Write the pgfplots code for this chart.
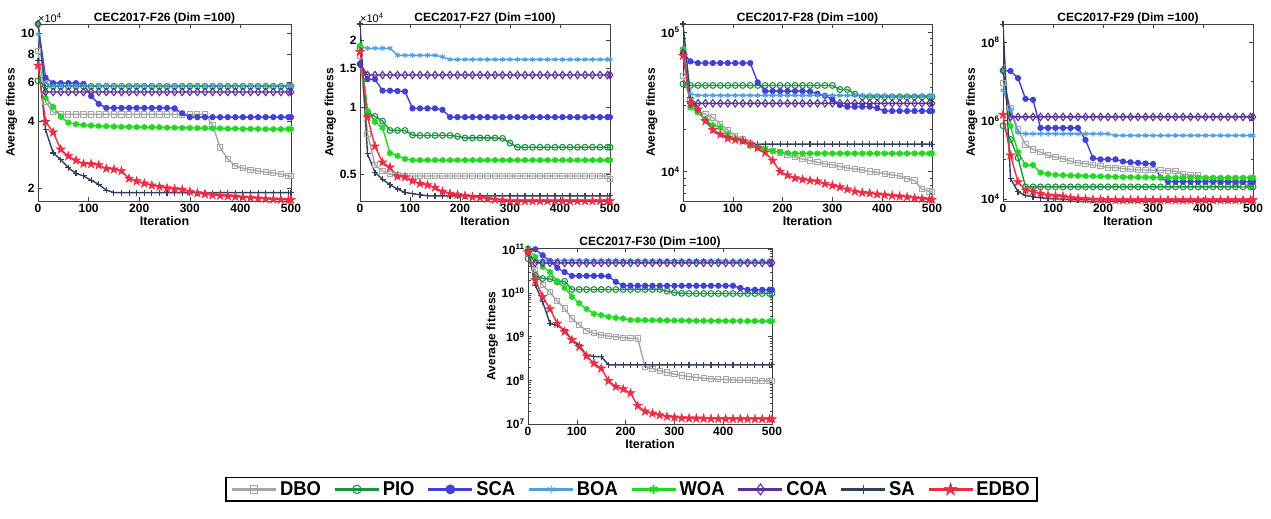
\documentclass[border=0pt]{standalone}
\usepackage{fontspec}
\setmainfont{Liberation Sans}
\newfontfamily\legfont[FakeStretch=0.92]{Liberation Sans}
\usepackage{pgfplots}
\pgfplotsset{compat=1.18}
\usepackage{pgfplotstable}

\definecolor{cDBO}{RGB}{165,165,165}
\definecolor{cPIO}{RGB}{30,145,65}
\definecolor{cSCA}{RGB}{65,65,215}
\definecolor{cBOA}{RGB}{80,160,225}
\definecolor{cWOA}{RGB}{35,215,35}
\definecolor{cCOA}{RGB}{90,50,150}
\definecolor{cSA}{RGB}{45,65,95}
\definecolor{cEDBO}{RGB}{235,45,70}

\pgfdeclareplotmark{pstar}{%
 \pgfpathmoveto{\pgfqpointpolar{90}{1.3\pgfplotmarksize}}%
 \pgfpathlineto{\pgfqpointpolar{126}{0.5\pgfplotmarksize}}%
 \pgfpathlineto{\pgfqpointpolar{162}{1.3\pgfplotmarksize}}%
 \pgfpathlineto{\pgfqpointpolar{198}{0.5\pgfplotmarksize}}%
 \pgfpathlineto{\pgfqpointpolar{234}{1.3\pgfplotmarksize}}%
 \pgfpathlineto{\pgfqpointpolar{270}{0.5\pgfplotmarksize}}%
 \pgfpathlineto{\pgfqpointpolar{306}{1.3\pgfplotmarksize}}%
 \pgfpathlineto{\pgfqpointpolar{342}{0.5\pgfplotmarksize}}%
 \pgfpathlineto{\pgfqpointpolar{18}{1.3\pgfplotmarksize}}%
 \pgfpathlineto{\pgfqpointpolar{54}{0.5\pgfplotmarksize}}%
 \pgfpathclose
 \pgfusepathqfillstroke
}

\tikzset{
 sDBO/.style={color=cDBO, line width=1.4pt, mark=square, mark size=2.6pt, mark options={line width=1pt}},
 sPIO/.style={color=cPIO, line width=1.4pt, mark=o, mark size=2.9pt, mark options={line width=1.1pt}},
 sSCA/.style={color=cSCA, line width=1.4pt, mark=*, mark size=2.4pt},
 sBOA/.style={color=cBOA, line width=1.4pt, mark=asterisk, mark size=2.7pt, mark options={line width=1pt}},
 sWOA/.style={color=cWOA, line width=1.4pt, mark=asterisk, mark size=3.1pt, mark options={line width=2pt}},
 sCOA/.style={color=cCOA, line width=1.4pt, mark=diamond, mark size=3.7pt, mark options={line width=1.1pt}},
 sSA/.style={color=cSA, line width=1.4pt, mark=+, mark size=3pt, mark options={line width=1.1pt}},
 sEDBO/.style={color=cEDBO, line width=1.4pt, mark=pstar, mark size=3.6pt, mark options={line width=0.5pt}},
}

\pgfplotsset{every axis/.append style={scale only axis, xmin=0, xmax=500,
   xtick={0,100,200,300,400,500}, xticklabels={0,100,200,300,400,500},
   tick label style={font=\fontsize{12}{14}\selectfont\bfseries},
   title style={font=\fontsize{12}{14}\selectfont\bfseries, yshift=-10pt},
   xlabel={Iteration}, ylabel={Average fitness},
   xlabel style={font=\fontsize{12.5}{14}\selectfont\bfseries, yshift=3pt},
   ylabel style={font=\fontsize{12}{14}\selectfont\bfseries, yshift=-3pt},
   axis line style={line width=0.6pt, black!75},
   tick style={black!75, line width=0.5pt},
   major tick length=4pt, minor tick length=2.5pt}}

\newcommand{\alleight}[1]{%
 \addplot[sDBO] table[x=x,y=DBO]{#1};
 \addplot[sPIO] table[x=x,y=PIO]{#1};
 \addplot[sSCA] table[x=x,y=SCA]{#1};
 \addplot[sBOA] table[x=x,y=BOA]{#1};
 \addplot[sWOA] table[x=x,y=WOA]{#1};
 \addplot[sCOA] table[x=x,y=COA]{#1};
 \addplot[sSA] table[x=x,y=SA]{#1};
 \addplot[sEDBO] table[x=x,y=EDBO]{#1};
}

\pgfplotstableread{
x DBO PIO SCA BOA WOA COA SA EDBO
0 83000 61000 110000 99000 110000 110000 75000 71500
15 49000 57600 63000 60000 51000 54300 36600 39900
30 44000 57600 59500 57800 46500 54300 28800 35700
45 43000 57600 59500 57800 42000 54300 26900 29900
60 43000 57600 59500 57800 39500 54300 24700 27900
75 43000 57600 59500 57800 38800 54300 23300 26700
90 43000 57600 59000 57800 38500 54300 22700 25800
105 43000 57600 52000 57800 38300 54300 21700 25700
120 43000 57600 48000 57800 38100 54300 20800 25400
135 43000 57600 46000 57800 38000 54300 19600 24500
150 43000 57600 46000 57800 37900 54300 19100 24300
165 43000 57600 46000 57800 37800 54300 19100 23900
180 43000 57600 46000 57800 37800 54300 19100 22100
195 43000 57600 46000 57800 37700 54300 19100 21500
210 43000 57600 46000 57800 37700 54300 19100 21000
225 43000 57600 46000 57800 37600 54300 19100 20600
240 43000 57600 46000 57800 37600 54300 19100 20300
255 43000 57600 46000 57800 37500 54300 19100 20000
270 43000 57600 45800 57800 37500 54300 19100 19800
285 43000 57600 43500 57800 37400 54300 19100 19700
300 43000 57600 41800 57800 37400 54300 19100 19300
315 43000 57600 41800 57800 37300 54300 19100 19000
330 43000 57600 41800 57800 37300 54300 19100 18800
345 38500 57600 41800 57800 37200 54300 19100 18600
360 30500 57600 41800 57800 37200 54300 19100 18500
375 27000 57600 41800 57800 37100 54300 19100 18400
390 25200 57600 41800 57800 37100 54300 19100 18300
405 24600 57600 41800 57800 37000 54300 19100 18200
420 24200 57600 41800 57800 37000 54300 19100 18100
435 23900 57600 41800 57800 37000 54300 19100 18000
450 23600 57600 41800 57800 36900 54300 19100 17900
465 23400 57600 41800 57800 36900 54300 19100 17800
480 23100 57600 41800 57800 36900 54300 19100 17750
495 22700 57600 41800 57800 36900 54300 19100 17700
500 22600 57600 41800 57800 36900 54300 19100 17700
}\tA

\pgfplotstableread{
x DBO PIO SCA BOA WOA COA SA EDBO
0 17000 18500 15700 18800 19000 15700 23800 17800
15 7600 9530 13400 18500 9650 14000 6170 9040
30 5500 9100 13400 18500 8600 14000 5080 6680
45 5150 8670 11900 18500 8100 14000 4740 5650
60 5000 7870 11900 18500 6210 14000 4470 5360
75 4950 7870 11850 17200 6050 14000 4280 4880
90 4900 7870 11800 17200 5850 14000 4130 4840
105 4900 7500 9900 17200 5780 14000 4080 4660
120 4900 7470 9900 17200 5780 14000 4030 4530
135 4900 7470 9900 17200 5780 14000 3990 4460
150 4900 7470 9900 17200 5780 14000 3990 4350
165 4900 7470 9750 16900 5780 14000 3990 4170
180 4900 7470 9040 16450 5780 14000 3990 4080
195 4900 7400 9040 16450 5780 14000 3990 4030
210 4900 7280 9040 16450 5780 14000 3990 3990
225 4900 7280 9040 16450 5780 14000 3990 3940
240 4900 7280 9040 16450 5780 14000 3990 3920
255 4900 7280 9040 16450 5780 14000 3990 3870
270 4900 7280 9040 16450 5780 14000 3990 3840
285 4900 7250 9040 16450 5780 14000 3990 3810
300 4900 6900 9040 16450 5780 14000 3990 3780
315 4900 6610 9040 16450 5780 14000 3990 3780
330 4900 6610 9040 16450 5780 14000 3990 3780
345 4900 6610 9040 16450 5780 14000 3990 3780
360 4900 6610 9040 16450 5780 14000 3990 3780
375 4900 6610 9040 16450 5780 14000 3990 3780
390 4900 6610 9040 16450 5780 14000 3990 3780
405 4900 6610 9040 16450 5780 14000 3990 3780
420 4900 6610 9040 16450 5780 14000 3990 3780
435 4900 6610 9040 16450 5780 14000 3990 3780
450 4900 6610 9040 16450 5780 14000 3990 3780
465 4900 6610 9040 16450 5780 14000 3990 3780
480 4900 6610 9040 16450 5780 14000 3990 3780
495 4900 6610 9040 16450 5780 14000 3990 3780
500 4740 6610 9040 16450 5780 14000 3990 3780
}\tB

\pgfplotstableread{
x DBO PIO SCA BOA WOA COA SA EDBO
0 48300 42600 71000 75000 75700 71000 114600 67800
15 32000 41500 61800 36100 28800 30900 34000 31200
30 27200 41500 60100 35200 26500 30900 27500 28000
45 25800 41500 60100 35200 23700 30900 23700 23000
60 24400 41500 60100 35200 21500 30900 19900 19900
75 21900 41500 60100 35200 20700 30900 18500 18500
90 19900 41500 60100 35200 18500 30900 17800 17300
105 18100 41500 60100 35200 17100 30900 17100 16900
120 17100 41500 60100 35200 16600 30900 16500 16600
135 16000 41500 60100 35200 15300 30900 16000 15750
150 15300 41500 43700 35200 14900 30900 15750 14800
165 14500 41500 37800 35200 14500 30900 15750 13700
180 14100 41500 37800 35200 14100 30900 15750 12000
195 13700 41500 37800 35200 13800 30900 15750 10000
210 13200 41500 37800 35200 13600 30900 15750 9400
225 12700 41500 37800 35200 13500 30900 15750 8970
240 12300 41500 37800 35200 13500 30900 15750 8780
255 12000 41500 37500 35200 13500 30900 15750 8630
270 11660 41500 36200 35200 13500 30900 15750 8500
285 11350 41500 35000 35200 13500 30900 15750 8180
300 11200 41500 33000 35200 13500 30900 15750 7950
315 10870 38800 30000 35200 13500 30900 15750 7730
330 10600 38800 29200 35200 13500 30900 15750 7450
345 10450 36000 29200 35200 13500 30900 15750 7200
360 10280 34400 29200 35200 13500 30900 15750 7060
375 10000 34400 29200 35200 13500 30900 15750 6980
390 9890 34400 28500 35200 13500 30900 15750 6870
405 9620 34400 27200 35200 13500 30900 15750 6790
420 9460 34400 27200 35000 13500 30900 15750 6710
435 9300 34400 27200 35000 13500 30900 15750 6640
450 8870 34400 27200 35000 13500 30900 15750 6570
465 8630 34400 27200 35000 13500 30900 15750 6460
480 7450 34400 27200 35000 13500 30900 15750 6390
495 7200 34400 27200 35000 13500 30900 15750 6320
500 7120 34400 27200 35000 13500 30900 15750 6290
}\tC

\pgfplotstableread{
x DBO PIO SCA BOA WOA COA SA EDBO
0 9100000 740000 19000000 5900000 19000000 19000000 290000000 1420000
15 2100000 330000 18600000 1900000 720000 1240000 33000 129000
30 590000 112000 12200000 490000 157000 1240000 15100 27000
45 245000 20200 3600000 458000 73000 1240000 12200 16600
60 183000 20200 3400000 458000 73000 1240000 11200 15400
75 157000 20200 650000 458000 46700 1240000 10600 13700
90 129000 20200 650000 458000 43000 1240000 10200 12200
105 117000 20200 650000 458000 41000 1240000 10000 11900
120 106000 20200 650000 458000 40000 1240000 9800 11500
135 92000 20200 650000 458000 39500 1240000 9600 10600
150 84000 20200 650000 458000 39000 1240000 9500 10200
165 79000 20200 320000 458000 38500 1240000 9500 9800
180 73000 20200 110000 458000 38000 1240000 9500 9600
195 69000 20200 102000 458000 37500 1240000 9500 9500
210 62700 20200 102000 458000 37000 1240000 9500 9400
225 62700 20200 102000 416000 36500 1240000 9500 9300
240 59000 20200 90000 416000 36000 1240000 9500 9250
255 57000 20200 86000 416000 35800 1240000 9500 9250
270 54600 20200 83000 416000 35600 1240000 9500 9250
285 54600 20200 80000 416000 35400 1240000 9500 9250
300 53600 20200 78000 416000 35200 1240000 9500 9250
315 53600 20200 35000 416000 35000 1240000 9500 9250
330 52500 20200 27600 416000 35000 1240000 9500 9250
345 51000 20200 27600 416000 34900 1240000 9500 9250
360 42400 20200 27600 416000 34900 1240000 9500 9250
375 40000 20200 27600 416000 34900 1240000 9500 9250
390 40000 20200 27600 416000 34800 1240000 9500 9250
405 31600 20200 27600 416000 34800 1240000 9500 9250
420 31600 20200 27600 416000 34800 1240000 9500 9250
435 28700 20200 27600 416000 34800 1240000 9500 9250
450 27000 20200 27600 416000 34800 1240000 9500 9250
465 26000 20200 27600 416000 34800 1240000 9500 9250
480 23600 20200 27600 416000 34800 1240000 9500 9250
495 22200 20200 27600 416000 34800 1240000 9500 9250
500 21400 20200 27600 416000 34800 1240000 9500 9250
}\tD

\pgfplotstableread{
x DBO PIO SCA BOA WOA COA SA EDBO
0 8.7e10 6.1e10 8.5e10 8.0e10 1.05e11 8.7e10 1.0e11 8.7e10
15 3.3e10 2.5e10 1.0e11 5.6e10 6.7e10 4.88e10 1.51e10 1.96e10
30 1.5e10 2.14e10 7.3e10 5.6e10 3.95e10 4.88e10 6.3e9 8.2e9
45 1.03e10 2.1e10 5.4e10 5.6e10 3.04e10 4.88e10 2.0e9 4.3e9
60 6.5e9 1.8e10 3.75e10 5.6e10 1.86e10 4.88e10 1.8e9 2.0e9
75 4.4e9 1.85e10 3.0e10 5.6e10 1.31e10 4.88e10 1.43e9 1.3e9
90 2.6e9 1.2e10 2.46e10 5.6e10 8.2e9 4.88e10 8.4e8 8.4e8
105 1.85e9 1.2e10 2.46e10 5.6e10 5.8e9 4.88e10 6.45e8 5.9e8
120 1.37e9 1.2e10 2.46e10 5.6e10 4.3e9 4.88e10 3.7e8 3.6e8
135 1.19e9 1.2e10 2.46e10 5.6e10 3.35e9 4.88e10 3.5e8 2.45e8
150 1.09e9 1.2e10 2.46e10 5.6e10 3.1e9 4.88e10 3.5e8 1.88e8
165 1.03e9 1.2e10 2.4e10 5.6e10 2.85e9 4.88e10 2.26e8 9.7e7
180 9.9e8 1.2e10 1.8e10 5.6e10 2.7e9 4.88e10 2.26e8 7.2e7
195 9.5e8 1.2e10 1.48e10 5.5e10 2.6e9 4.88e10 2.26e8 6.3e7
210 9.2e8 1.2e10 1.46e10 5.5e10 2.4e9 4.88e10 2.26e8 5.1e7
225 9.1e8 1.2e10 1.46e10 5.5e10 2.4e9 4.88e10 2.26e8 2.6e7
240 2.0e8 1.2e10 1.46e10 5.5e10 2.38e9 4.88e10 2.26e8 1.95e7
255 1.85e8 1.2e10 1.46e10 5.5e10 2.37e9 4.88e10 2.26e8 1.75e7
270 1.65e8 1.2e10 1.46e10 5.5e10 2.36e9 4.88e10 2.26e8 1.6e7
285 1.51e8 1.1e10 1.46e10 5.5e10 2.35e9 4.88e10 2.26e8 1.48e7
300 1.38e8 1.02e10 1.46e10 5.5e10 2.34e9 4.88e10 2.26e8 1.42e7
315 1.29e8 9.8e9 1.46e10 5.5e10 2.33e9 4.88e10 2.26e8 1.37e7
330 1.22e8 9.7e9 1.46e10 5.5e10 2.32e9 4.88e10 2.26e8 1.35e7
345 1.16e8 9.7e9 1.46e10 5.5e10 2.31e9 4.88e10 2.26e8 1.34e7
360 1.12e8 9.7e9 1.46e10 5.5e10 2.3e9 4.88e10 2.26e8 1.33e7
375 1.08e8 9.7e9 1.46e10 5.5e10 2.3e9 4.88e10 2.26e8 1.32e7
390 1.05e8 9.7e9 1.46e10 5.5e10 2.29e9 4.88e10 2.26e8 1.32e7
405 1.04e8 9.7e9 1.46e10 5.4e10 2.29e9 4.88e10 2.26e8 1.31e7
420 1.02e8 9.7e9 1.46e10 5.4e10 2.28e9 4.88e10 2.26e8 1.31e7
435 1.0e8 9.7e9 1.3e10 5.4e10 2.28e9 4.88e10 2.26e8 1.3e7
450 1.0e8 9.7e9 1.18e10 5.4e10 2.27e9 4.88e10 2.26e8 1.3e7
465 9.9e7 9.7e9 1.18e10 5.4e10 2.27e9 4.88e10 2.26e8 1.3e7
480 9.8e7 9.7e9 1.18e10 5.4e10 2.27e9 4.88e10 2.26e8 1.3e7
495 9.7e7 9.7e9 1.18e10 5.4e10 2.27e9 4.88e10 2.26e8 1.3e7
500 9.7e7 9.7e9 1.18e10 5.4e10 2.27e9 4.88e10 2.26e8 1.3e7
}\tE

\begin{document}
\begin{tikzpicture}
\path[use as bounding box] (0pt,0pt) rectangle (1271pt,519pt);

\begin{axis}[ymode=log, name=a26, at={(38pt,318pt)}, width=253pt, height=177pt,
  title={CEC2017-F26 (Dim =100)}, ymin=17500, ymax=110000,
  ytick={20000,40000,60000,80000,100000}, yticklabels={2,4,6,8,10}]
\alleight{\tA}
\end{axis}
\node[anchor=south west, inner sep=0pt, font=\fontsize{11}{13}\selectfont] at ([yshift=1pt]a26.north west) {×10\textsuperscript{4}};

\begin{axis}[ymode=log, name=a27, at={(360pt,318pt)}, width=250pt, height=177pt,
  title={CEC2017-F27 (Dim =100)}, ymin=3780, ymax=23800,
  ytick={5000,10000,15000,20000}, yticklabels={0.5,1,1.5,2}]
\alleight{\tB}
\end{axis}
\node[anchor=south west, inner sep=0pt, font=\fontsize{11}{13}\selectfont] at ([yshift=1pt]a27.north west) {×10\textsuperscript{4}};

\begin{axis}[ymode=log, name=a28, at={(683pt,318pt)}, width=249pt, height=177pt,
  title={CEC2017-F28 (Dim =100)}, ymin=6150, ymax=114600,
  ytick={10000,100000}, yticklabels={10\textsuperscript{4},10\textsuperscript{5}},
  minor ytick={7000,8000,9000,20000,30000,40000,50000,60000,70000,80000,90000}]
\alleight{\tC}
\end{axis}

\begin{axis}[ymode=log, name=a29, at={(1003pt,318pt)}, width=250pt, height=177pt,
  title={CEC2017-F29 (Dim =100)}, ymin=8800, ymax=2.95e8,
  ytick={1e4,1e6,1e8}, yticklabels={10\textsuperscript{4},10\textsuperscript{6},10\textsuperscript{8}},
  minor ytick={1e5,1e7}]
\alleight{\tD}
\end{axis}

\begin{axis}[ymode=log, name=a30, at={(528pt,95pt)}, width=244pt, height=176pt,
  title={CEC2017-F30 (Dim =100)}, ymin=1e7, ymax=1.07e11,
  ytick={1e7,1e8,1e9,1e10,1e11},
  yticklabels={10\textsuperscript{7},10\textsuperscript{8},10\textsuperscript{9},10\textsuperscript{10},10\textsuperscript{11}},
  legend image code/.code={\draw[mark repeat=2,mark phase=2,line width=2.8pt,every mark/.append style={scale=1.45}] plot coordinates {(0pt,0pt) (22pt,0pt) (44pt,0pt)};},
  legend columns=8,
  legend style={at={(0.424,-0.301)}, anchor=north, draw=black, line width=1.4pt,
    font=\legfont\bfseries\fontsize{20}{22}\selectfont,
    inner xsep=5pt, inner ysep=3pt,
    /tikz/every even column/.append style={column sep=10pt},
    nodes={inner xsep=2.5pt, inner ysep=1pt}}]
\alleight{\tE}
\legend{DBO,PIO,SCA,BOA,WOA,COA,SA,EDBO}
\end{axis}

\end{tikzpicture}
\end{document}
